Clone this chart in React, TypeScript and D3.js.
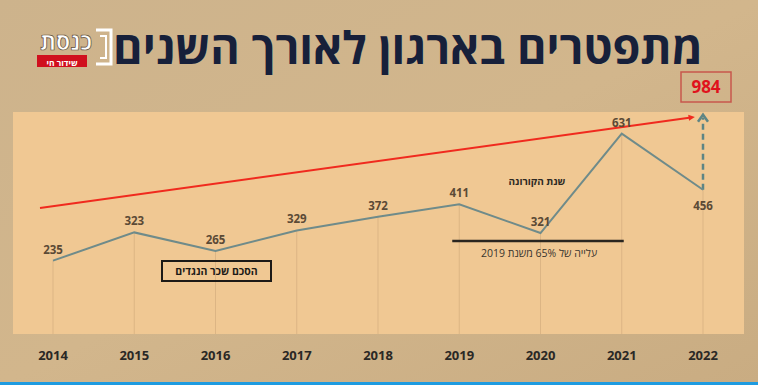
import * as React from 'react';
import * as d3 from 'd3';

// data
const years = [2014, 2015, 2016, 2017, 2018, 2019, 2020, 2021, 2022];
const resignations = [235, 323, 265, 329, 372, 411, 321, 631, 456];
const trendYears = [2013.84, 2021.9];
const trendValues = [399, 683];
const projectionValues = [456, 690];
const projectedTotal = '984';

const W = 758;
const H = 385;
const panel = { left: 13, top: 112, right: 744, bottom: 334 };

const FONT = "'Open Sans', 'Liberation Sans', 'DejaVu Sans', sans-serif";

const App = () => {
  const x = d3.scaleLinear().domain([2014, 2022]).range([53, 703]);
  const y = d3.scaleLinear().domain([0, 700]).range([336, 111.5]);

  const pts = years.map((yr, i) => ({ yr, v: resignations[i] }));
  const line = d3
    .line<{ yr: number; v: number }>()
    .x(d => x(d.yr))
    .y(d => y(d.v));

  const tx0 = x(trendYears[0]);
  const ty0 = y(trendValues[0]);
  const tx1 = x(trendYears[1]);
  const ty1 = y(trendValues[1]);
  const ang = Math.atan2(ty1 - ty0, tx1 - tx0);
  const ah = 7;
  const redHead = [
    [tx1, ty1],
    [tx1 - ah * Math.cos(ang - 0.45), ty1 - ah * Math.sin(ang - 0.45)],
    [tx1 - ah * Math.cos(ang + 0.45), ty1 - ah * Math.sin(ang + 0.45)]
  ];

  const px = x(2022);
  const pTop = y(projectionValues[1]);
  const pBottom = y(projectionValues[0]);

  // 2022 label sits under its point, the rest above
  const labelY = (i: number) =>
    years[i] === 2022 ? y(resignations[i]) + 20 : y(resignations[i]) - 7;

  return (
    <svg
      width={W}
      height={H}
      style={{ position: 'absolute', left: 0, top: 0, display: 'block' }}
    >
      <defs>
        <linearGradient id="bg" x1="0" y1="0" x2="1" y2="1">
          <stop offset="0" stopColor="#cdb38c" />
          <stop offset="0.5" stopColor="#d2b68c" />
          <stop offset="1" stopColor="#c9ac82" />
        </linearGradient>
      </defs>
      <rect x={0} y={0} width={W} height={H} fill="url(#bg)" />

      {/* title */}
      <text
        x={408}
        y={64}
        textAnchor="middle"
        fontFamily={FONT}
        fontWeight="bold"
        fontSize={45}
        fill="#17203a"
        direction="rtl"
      >
        מתפטרים בארגון לאורך השנים
      </text>

      {/* channel logo */}
      <g>
        <text
          x={66}
          y={49.5}
          textAnchor="middle"
          fontFamily={FONT}
          fontWeight="bold"
          fontSize={23}
          fill="#ffffff"
          stroke="#5a4a36"
          strokeWidth={0.7}
        >
          כנסת
        </text>
        <path d="M96,30 H111 V64 H96" fill="none" stroke="#ffffff" strokeWidth={3} />
        <path d="M100,36 H106 V58 H100" fill="none" stroke="#ffffff" strokeWidth={2} />
        <rect x={37} y={55} width={50} height={12} fill="#d0101e" />
        <text
          x={62}
          y={66}
          textAnchor="middle"
          fontFamily={FONT}
          fontWeight="bold"
          fontSize={8.5}
          fill="#ffffff"
        >
          שידור חי
        </text>
      </g>

      {/* 984 box */}
      <rect x={681} y={72} width={50} height={30} fill="none" stroke="#c8574c" strokeWidth={1.5} />
      <text
        x={706}
        y={93}
        textAnchor="middle"
        fontFamily={FONT}
        fontWeight="bold"
        fontSize={17}
        fill="#e0121c"
      >
        {projectedTotal}
      </text>

      {/* panel */}
      <rect
        x={panel.left}
        y={panel.top}
        width={panel.right - panel.left}
        height={panel.bottom - panel.top}
        fill="#f0c893"
      />

      {/* vertical drop lines */}
      {pts.map(d => (
        <line
          key={'g' + d.yr}
          x1={x(d.yr)}
          x2={x(d.yr)}
          y1={y(d.v)}
          y2={panel.bottom}
          stroke="#dcb584"
          strokeWidth={1}
        />
      ))}

      {/* red trend arrow */}
      <line x1={tx0} y1={ty0} x2={tx1 - 4 * Math.cos(ang)} y2={ty1 - 4 * Math.sin(ang)} stroke="#f02a1e" strokeWidth={2} />
      <polygon points={redHead.map(p => p.join(',')).join(' ')} fill="#f02a1e" />

      {/* projection dashed arrow */}
      <line
        x1={px}
        x2={px}
        y1={pBottom}
        y2={pTop + 3}
        stroke="#5d8585"
        strokeWidth={2.5}
        strokeDasharray="6,4"
      />
      <path
        d={`M${px - 5},${pTop + 7} L${px},${pTop} L${px + 5},${pTop + 7}`}
        fill="none"
        stroke="#5d8585"
        strokeWidth={2.5}
      />

      {/* main line */}
      <path d={line(pts) || ''} fill="none" stroke="#6f8b8a" strokeWidth={2} />

      {/* value labels */}
      {pts.map((d, i) => (
        <text
          key={'v' + d.yr}
          x={x(d.yr)}
          y={labelY(i)}
          textAnchor="middle"
          fontFamily={FONT}
          fontWeight="bold"
          fontSize={11.5}
          fill="#5b4a36"
        >
          {d.v}
        </text>
      ))}

      {/* annotations */}
      <text
        x={537}
        y={185}
        textAnchor="middle"
        fontFamily={FONT}
        fontWeight="bold"
        fontSize={10}
        fill="#2e2a24"
      >
        שנת הקורונה
      </text>
      <line x1={x(2019) - 7} x2={x(2021) + 2} y1={241} y2={241} stroke="#2a2620" strokeWidth={2.5} />
      <text
        x={539}
        y={257}
        textAnchor="middle"
        fontFamily={FONT}
        fontSize={10.5}
        fill="#3a352e"
        direction="rtl"
      >
        עלייה של 65% משנת 2019
      </text>

      <rect x={162} y={261} width={109} height={20} fill="none" stroke="#1c1a17" strokeWidth={2} />
      <text
        x={216.5}
        y={275}
        textAnchor="middle"
        fontFamily={FONT}
        fontWeight="bold"
        fontSize={10.5}
        fill="#1c1a17"
      >
        הסכם שכר הנגדים
      </text>

      {/* x axis labels */}
      {years.map(yr => (
        <text
          key={'x' + yr}
          x={x(yr)}
          y={360}
          textAnchor="middle"
          fontFamily={FONT}
          fontWeight="bold"
          fontSize={13}
          fill="#2a2825"
        >
          {yr}
        </text>
      ))}

      {/* bottom screen strip */}
      <rect x={0} y={382} width={W} height={3} fill="#1e9be0" />
    </svg>
  );
};

export default App;
